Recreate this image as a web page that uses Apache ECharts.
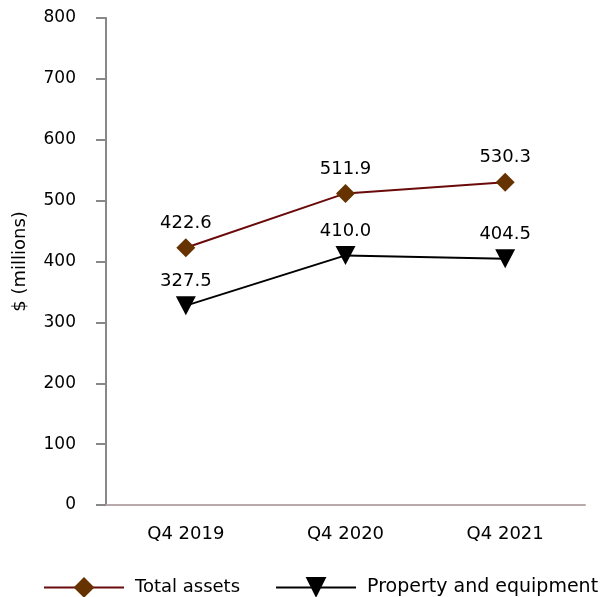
<!DOCTYPE html>
<html><head><meta charset="utf-8">
<script src="https://cdn.jsdelivr.net/npm/echarts@6/dist/echarts.min.js"></script>
<style>html,body{margin:0;padding:0;background:#fff}#c{width:602px;height:597px}</style>
</head><body><div id="c"></div>
<script>
const categories = ['Q4 2019', 'Q4 2020', 'Q4 2021'];
const totalAssets = [422.6, 511.9, 530.3];
const propertyEquipment = [327.5, 410.0, 404.5];
const yTicks = [0, 100, 200, 300, 400, 500, 600, 700, 800];

const font = 'DejaVu Sans';
const chart = echarts.init(document.getElementById('c'), null, {renderer: 'canvas'});
chart.setOption({
  animation: false,
  textStyle: {fontFamily: font},
  grid: {left: 106, right: 17, top: 18, bottom: 92},
  legend: {
    top: 577, left: 43, padding: 0, itemWidth: 80, itemHeight: 26, itemGap: 35,
    textStyle: {fontFamily: font, fontSize: 18, color: '#000', padding: [0, 0, 0, 6]},
    data: [
      {name: 'Total assets'},
      {name: 'Property and equipment', textStyle: {fontSize: 19}}
    ]
  },
  xAxis: {
    type: 'category', data: categories, boundaryGap: true,
    axisLine: {lineStyle: {color: '#b8a9ab', width: 2}},
    axisTick: {alignWithLabel: true, length: 9, lineStyle: {color: '#888', width: 2}},
    axisLabel: {fontFamily: font, fontSize: 18, color: '#000', margin: 20}
  },
  yAxis: {
    type: 'value', min: yTicks[0], max: yTicks[yTicks.length - 1], interval: 100,
    name: '$ (millions)', nameLocation: 'middle', nameGap: 77, nameRotate: 90,
    nameTextStyle: {fontFamily: font, fontSize: 18, color: '#000'},
    axisLine: {show: true, lineStyle: {color: '#888', width: 2}},
    axisTick: {show: true, length: 10, lineStyle: {color: '#888', width: 2}},
    axisLabel: {fontFamily: font, fontSize: 17, color: '#000', margin: 30},
    splitLine: {show: false}
  },
  series: [
    {
      name: 'Total assets', type: 'line', data: totalAssets,
      symbol: 'diamond', symbolSize: 19,
      lineStyle: {color: '#6b0a0a', width: 2},
      itemStyle: {color: '#663300'},
      label: {show: true, position: 'top', distance: 6, fontFamily: font, fontSize: 18, color: '#000', formatter: p => p.value.toFixed(1)}
    },
    {
      name: 'Property and equipment', type: 'line', data: propertyEquipment,
      symbol: 'triangle', symbolRotate: 180, symbolSize: [20, 19],
      lineStyle: {color: '#000', width: 2},
      itemStyle: {color: '#000'},
      label: {show: true, position: 'top', distance: 6, fontFamily: font, fontSize: 18, color: '#000', formatter: p => p.value.toFixed(1)}
    }
  ]
});
</script></body></html>
